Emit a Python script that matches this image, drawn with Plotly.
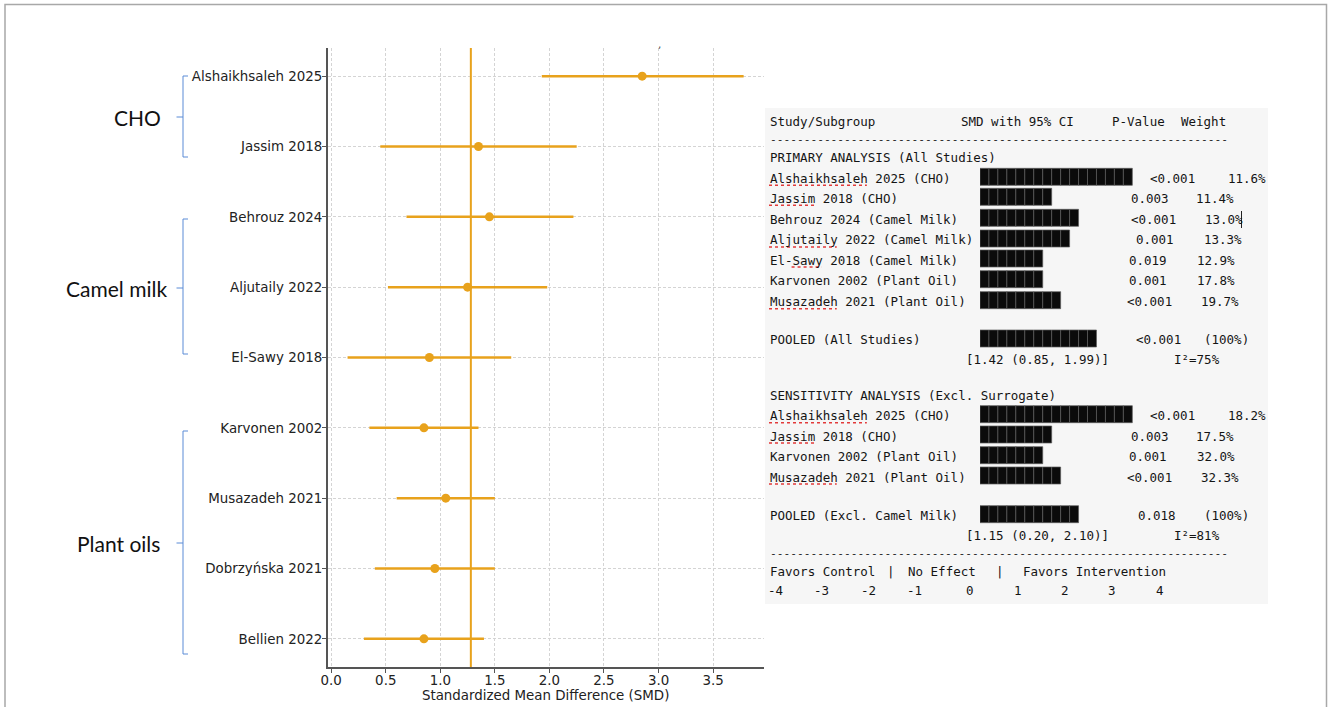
import plotly.graph_objects as go

# ---------------- data ----------------
studies = ["Alshaikhsaleh 2025", "Jassim 2018", "Behrouz 2024", "Aljutaily 2022",
           "El-Sawy 2018", "Karvonen 2002", "Musazadeh 2021", "Dobrzyńska 2021",
           "Bellien 2022"]
smd = [2.85, 1.35, 1.45, 1.25, 0.90, 0.85, 1.05, 0.95, 0.85]
ci_low = [1.93, 0.45, 0.69, 0.52, 0.15, 0.35, 0.60, 0.40, 0.30]
ci_high = [3.78, 2.25, 2.22, 1.98, 1.65, 1.35, 1.50, 1.50, 1.40]
pooled_smd = 1.28
x_ticks = [0.0, 0.5, 1.0, 1.5, 2.0, 2.5, 3.0, 3.5]

groups = ["CHO", "Camel milk", "Plant oils"]

table_header = ["Study/Subgroup", "SMD with 95% CI", "P-Value", "Weight"]

primary_title = "PRIMARY ANALYSIS (All Studies)"
primary_rows = ["Alshaikhsaleh 2025 (CHO)", "Jassim 2018 (CHO)", "Behrouz 2024 (Camel Milk)",
                "Aljutaily 2022 (Camel Milk)", "El-Sawy 2018 (Camel Milk)",
                "Karvonen 2002 (Plant Oil)", "Musazadeh 2021 (Plant Oil)"]
primary_blocks = [17, 8, 11, 10, 7, 7, 9]
primary_p = ["<0.001", "0.003", "<0.001", "0.001", "0.019", "0.001", "<0.001"]
primary_w = ["11.6%", "11.4%", "13.0%", "13.3%", "12.9%", "17.8%", "19.7%"]
pooled_all = ["POOLED (All Studies)", 13, "<0.001", "(100%)", "[1.42 (0.85, 1.99)]", "I²=75%"]

sens_title = "SENSITIVITY ANALYSIS (Excl. Surrogate)"
sens_rows = ["Alshaikhsaleh 2025 (CHO)", "Jassim 2018 (CHO)",
             "Karvonen 2002 (Plant Oil)", "Musazadeh 2021 (Plant Oil)"]
sens_blocks = [17, 8, 7, 9]
sens_p = ["<0.001", "0.003", "0.001", "<0.001"]
sens_w = ["18.2%", "17.5%", "32.0%", "32.3%"]
pooled_sens = ["POOLED (Excl. Camel Milk)", 11, "0.018", "(100%)", "[1.15 (0.20, 2.10)]", "I²=81%"]

favors_labels = ["Favors Control", "|", "No Effect", "|", "Favors Intervention"]
scale_labels = ["-4", "-3", "-2", "-1", "0", "1", "2", "3", "4"]

# ---------------- layout helpers ----------------
W, H = 1328, 707


def px(x):
    return x / W


def py(y):
    return 1 - y / H


ORANGE = "#E8A21C"
BLUE = "#5B8BD6"
MONO_SIZE = 12.5
mono = dict(family="DejaVu Sans Mono", size=MONO_SIZE, color="#141414")
MONO_CW = MONO_SIZE * 1233 / 2048      # advance width of the mono font
PITCH = 6.77                           # column pitch of the table layout

fig = go.Figure()

# ---------------- forest plot ----------------
rows = list(range(len(studies)))
fig.add_trace(go.Scatter(
    x=smd, y=rows, mode="markers",
    marker=dict(color=ORANGE, size=9),
    error_x=dict(type="data", symmetric=False,
                 array=[h - m for h, m in zip(ci_high, smd)],
                 arrayminus=[m - l for m, l in zip(smd, ci_low)],
                 color=ORANGE, thickness=2.5, width=0),
    xaxis="x", yaxis="y", showlegend=False, hoverinfo="skip"))

fig.add_shape(type="line", xref="x", yref="y domain", x0=pooled_smd, x1=pooled_smd,
              y0=0, y1=1, line=dict(color=ORANGE, width=2))

axis_font = dict(family="DejaVu Sans", size=13.4, color="#222222")
grid = dict(showgrid=True, gridcolor="#d4d4d4", griddash="3px,2px", gridwidth=1)
fig.update_layout(
    xaxis=dict(domain=[px(327.7), px(763.6)], range=[-0.032, 3.963], anchor="y",
               tickvals=x_ticks, ticktext=[f"{v:.1f}" for v in x_ticks],
               ticks="outside", ticklen=4, tickcolor="#555", tickfont=axis_font,
               ticklabelstandoff=-4,
               showline=True, linecolor="#555", linewidth=1.5, zeroline=False,
               title=dict(text="Standardized Mean Difference (SMD)", font=axis_font, standoff=0),
               automargin=False, **grid),
    yaxis=dict(domain=[py(667), py(48)], range=[8.4, -0.4], anchor="x",
               tickvals=rows, ticktext=studies,
               ticks="outside", ticklen=4, tickcolor="#555", tickfont=axis_font,
               ticklabelstandoff=-3,
               showline=True, linecolor="#555", linewidth=1.5, zeroline=False,
               automargin=False, **grid),
)

# ---------------- group brackets ----------------
group_spans = [(76, 157, 117, 137), (219, 354, 288, 116), (431, 654, 543, 118)]
annotations = []
for name, (top, bot, mid, cx) in zip(groups, group_spans):
    fig.add_shape(type="path", xref="paper", yref="paper",
                  path=(f"M {px(188)},{py(top)} L {px(183)},{py(top)} L {px(183)},{py(bot)} "
                        f"L {px(188)},{py(bot)} M {px(183)},{py(mid)} L {px(176.5)},{py(mid)}"),
                  line=dict(color=BLUE, width=1))
    annotations.append(dict(text=name, x=px(cx), y=py(mid), xref="paper", yref="paper",
                            xanchor="center", yanchor="middle", showarrow=False,
                            font=dict(family="Lato", size=21, color="#111")))

annotations.append(dict(text="ʼ", x=px(659), y=py(43), xref="paper", yref="paper",
                        showarrow=False, font=dict(family="DejaVu Sans", size=10, color="#444")))

# ---------------- table panel ----------------
fig.add_shape(type="rect", xref="paper", yref="paper", layer="below",
              x0=px(765), x1=px(1268), y0=py(604), y1=py(108),
              fillcolor="#f6f6f6", line=dict(width=0))

X0 = 768


def cell(text, xs, y, anchor="center"):
    x = xs if anchor == "left" else xs + len(text) * PITCH / 2
    annotations.append(dict(text=text, x=px(x), y=py(y), xref="paper", yref="paper",
                            xanchor=anchor, yanchor="middle", showarrow=False, font=mono))


def squiggle(row_text, word, y):
    i = row_text.find(word)
    if i < 0:
        return
    x_a = X0 + 1 + i * MONO_CW
    x_b = x_a + len(word) * MONO_CW
    fig.add_shape(type="line", xref="paper", yref="paper",
                  x0=px(x_a), x1=px(x_b), y0=py(y + 7), y1=py(y + 7),
                  line=dict(color="#e23a3a", width=1.5, dash="dot"))


underlined = ["Alshaikhsaleh", "Jassim", "Aljutaily", "Sawy", "Musazadeh"]

# header
cell(table_header[0], X0, 121, "left")
cell(table_header[1], 967, 121)
cell(table_header[2], 1115, 121)
cell(table_header[3], 1183, 121)
for yy in (139.5, 553):
    annotations.append(dict(text="-" * 68, x=px(X0), y=py(yy), xref="paper", yref="paper",
                            xanchor="left", yanchor="middle", showarrow=False,
                            font=dict(family="DejaVu Sans Mono", size=11.2, color="#1c1c1c")))

bar_y, bar_base = [], []

# primary analysis
cell(primary_title, X0, 157.7, "left")
prim_y = [178.3, 198.3, 219.3, 240, 260, 280.7, 301.7]
prim_px = [1152, 1133, 1133, 1138, 1131, 1131, 1129]
prim_wx = [1230, 1198, 1207, 1206, 1199, 1199, 1203]
for name, n, p, w, y, xp, xw in zip(primary_rows, primary_blocks, primary_p, primary_w,
                                     prim_y, prim_px, prim_wx):
    cell(name, X0, y, "left")
    cell(p, xp, y)
    cell(w, xw, y)
    for word in underlined:
        squiggle(name, word, y)
    for k in range(n):
        bar_y.append(y - 1.5)
        bar_base.append(k)

# text cursor left after the Behrouz weight
fig.add_shape(type="line", xref="paper", yref="paper", x0=px(1241.5), x1=px(1241.5),
              y0=py(211), y1=py(228), line=dict(color="#222", width=1))


def pooled_block(rec, y, y_ci, xp):
    label, n, p, w, ci, i2 = rec
    cell(label, X0, y, "left")
    cell(p, xp, y)
    cell(w, 1206, y)
    cell(ci, 973, y_ci)
    cell(i2, 1177, y_ci)
    for k in range(n):
        bar_y.append(y - 1.5)
        bar_base.append(k)


pooled_block(pooled_all, 340, 359, 1138)

# sensitivity analysis
cell(sens_title, X0, 395.7, "left")
sens_y = [415.7, 436, 456.7, 477]
sens_px = [1152, 1133, 1131, 1129]
sens_wx = [1230, 1198, 1199, 1203]
for name, n, p, w, y, xp, xw in zip(sens_rows, sens_blocks, sens_p, sens_w,
                                     sens_y, sens_px, sens_wx):
    cell(name, X0, y, "left")
    cell(p, xp, y)
    cell(w, xw, y)
    for word in underlined:
        squiggle(name, word, y)
    for k in range(n):
        bar_y.append(y - 1.5)
        bar_base.append(k)

pooled_block(pooled_sens, 515.7, 535.7, 1140)

# effect direction footer
for lab, xs, anc in zip(favors_labels, [X0, 888, 912, 997, 1021],
                        ["left", "center", "center", "center", "left"]):
    cell(lab, xs, 571.7, anc)
for lab, xs in zip(scale_labels, [769, 815, 862, 908, 967, 1015, 1062, 1109, 1157]):
    cell(lab, xs, 590.5)

# block bars of the text table, one unit per block
fig.add_trace(go.Bar(
    x=[1] * len(bar_y), y=bar_y, base=bar_base, orientation="h", width=17,
    marker=dict(color="#0b0b0b", line=dict(color="#5c5c5c", width=0.7)),
    xaxis="x2", yaxis="y2", showlegend=False, hoverinfo="skip"))

BLOCK_PX = 8.96
fig.update_layout(
    xaxis2=dict(domain=[px(980), px(980 + BLOCK_PX * 20)], range=[0, 20], anchor="y2",
                visible=False, fixedrange=True),
    yaxis2=dict(domain=[0, 1], range=[H, 0], anchor="x2", visible=False, fixedrange=True),
)

# page frame
fig.add_shape(type="path", xref="paper", yref="paper",
              path=f"M {px(5)},{py(707)} L {px(5)},{py(4.5)} L {px(1326.5)},{py(4.5)} L {px(1326.5)},{py(707)}",
              line=dict(color="#a8a8a8", width=1.5))

fig.update_layout(
    width=W, height=H, margin=dict(l=0, r=0, t=0, b=0),
    paper_bgcolor="white", plot_bgcolor="rgba(0,0,0,0)",
    showlegend=False, annotations=annotations, barmode="overlay",
)

fig.write_html("out.html")
